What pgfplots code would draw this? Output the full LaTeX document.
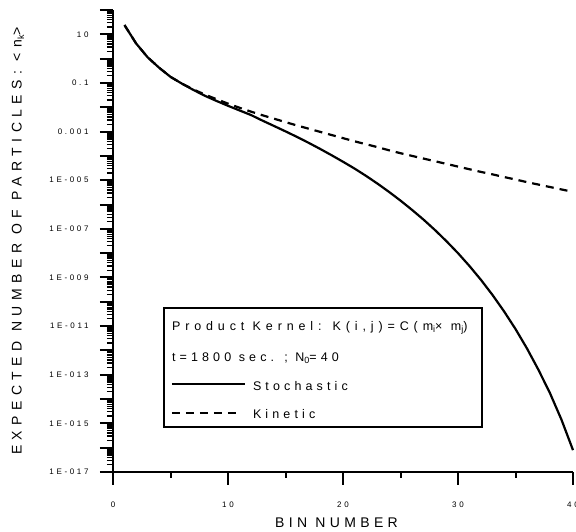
\documentclass[border=0pt]{standalone}
\usepackage{pgfplots}
\pgfplotsset{compat=1.18}
\usepackage{fontspec}
\setmainfont{Liberation Sans}
\newfontfamily\spfont[LetterSpace=33]{Liberation Sans}
\newfontfamily\wideleg[LetterSpace=39]{Liberation Sans}
\newfontfamily\labfont[LetterSpace=31]{Liberation Sans}
\newfontfamily\ylabfont[LetterSpace=39]{Liberation Sans}
\newcommand{\sub}[1]{\raisebox{-0.35ex}{\fontsize{9}{9}\selectfont #1}}

\pgfplotstableread{
k stoch kin
1 24.0 24.0
2 4.27 4.27
3 1.15 1.15
4 0.427 0.427
5 0.178 0.178
6 0.0933 0.0933
7 0.0513 0.0537
8 0.0295 0.0331
9 0.0182 0.0214
10 0.0115 0.0141
11 0.00741 0.00955
12 0.00479 0.00661
13 0.00282 0.00468
14 0.00170 0.00339
15 0.00102 0.00245
16 6.03e-4 0.00178
17 3.47e-4 0.00132
18 1.95e-4 9.77e-4
19 1.07e-4 7.24e-4
20 5.75e-5 5.37e-4
21 3.02e-5 3.98e-4
22 1.51e-5 3.02e-4
23 7.24e-6 2.29e-4
24 3.31e-6 1.70e-4
25 1.45e-6 1.29e-4
26 6.03e-7 1.00e-4
27 2.40e-7 7.76e-5
28 8.91e-8 6.03e-5
29 3.09e-8 4.68e-5
30 1.00e-8 3.63e-5
31 2.95e-9 2.82e-5
32 7.94e-10 2.19e-5
33 1.91e-10 1.74e-5
34 4.07e-11 1.35e-5
35 7.59e-12 1.07e-5
36 1.20e-12 8.32e-6
37 1.58e-13 6.61e-6
38 1.74e-14 5.25e-6
39 1.41e-15 4.17e-6
40 7.94e-17 3.31e-6
}\datatable

\begin{document}
\begin{tikzpicture}
\useasboundingbox (0,0) rectangle (576pt,532pt);
\begin{axis}[
  at={(113pt,60pt)}, anchor=south west,
  width=460pt, height=462pt, scale only axis,
  xmin=0, xmax=40, ymin=1e-17, ymax=100, ymode=log,
  axis lines*=left,
  axis line style={line width=2.5pt},
  xtick={0,10,20,30,40}, xticklabels={0,10,20,30,40},
  minor xtick={5,15,25,35},
  ytickten={-17,...,2},
  yticklabels={{1E-017},{},{1E-015},{},{1E-013},{},{1E-011},{},{1E-009},{},{1E-007},{},{1E-005},{},{0.001},{},{0.1},{},{10},{}},
  tick align=outside,
  major tick length=13pt,
  minor tick length=6pt,
  tick style={black, line width=2pt},
  minor y tick style={line width=1.3pt},
  yticklabel style={font=\spfont\fontsize{8}{8}\selectfont, xshift=-8pt},
  xticklabel style={font=\spfont\fontsize{8}{8}\selectfont, yshift=-13pt},
  xlabel={BIN NUMBER},
  ylabel={EXPECTED NUMBER OF PARTICLES: <n\sub{k}>},
  xlabel style={font=\labfont\fontsize{14}{14}\selectfont, at={(axis description cs:0.486,-0.110)}, anchor=center},
  ylabel style={font=\ylabfont\fontsize{14}{14}\selectfont, at={(axis description cs:-0.2065,0.5)}, anchor=center, rotate=0},
  clip=false,
]
\addplot[black, line width=2.2pt] table[x=k, y=stoch] {\datatable};
\addplot[black, line width=2.2pt, dash pattern=on 8pt off 6pt] table[x=k, y=kin] {\datatable};
\draw[line width=2pt] (rel axis cs:0.1109,0.355) rectangle (rel axis cs:0.8022,0.0974);
\node[anchor=west, inner sep=0pt, font=\wideleg\fontsize{12.5}{12.5}\selectfont] at (rel axis cs:0.128,0.3117) {Product Kernel: K(i,j)=C(m\sub{i}× m\sub{j})};
\node[anchor=west, inner sep=0pt, font=\spfont\fontsize{12.5}{12.5}\selectfont] at (rel axis cs:0.128,0.2468) {t=1800 sec. ; N\sub{0}=40};
\draw[line width=2pt] (rel axis cs:0.128,0.1905) -- (rel axis cs:0.287,0.1905);
\node[anchor=west, inner sep=0pt, font=\spfont\fontsize{12.5}{12.5}\selectfont] at (rel axis cs:0.304,0.1861) {Stochastic};
\draw[line width=2pt, dash pattern=on 8pt off 6pt] (rel axis cs:0.128,0.128) -- (rel axis cs:0.280,0.128);
\node[anchor=west, inner sep=0pt, font=\spfont\fontsize{12.5}{12.5}\selectfont] at (rel axis cs:0.304,0.1255) {Kinetic};
\end{axis}
\end{tikzpicture}
\end{document}
